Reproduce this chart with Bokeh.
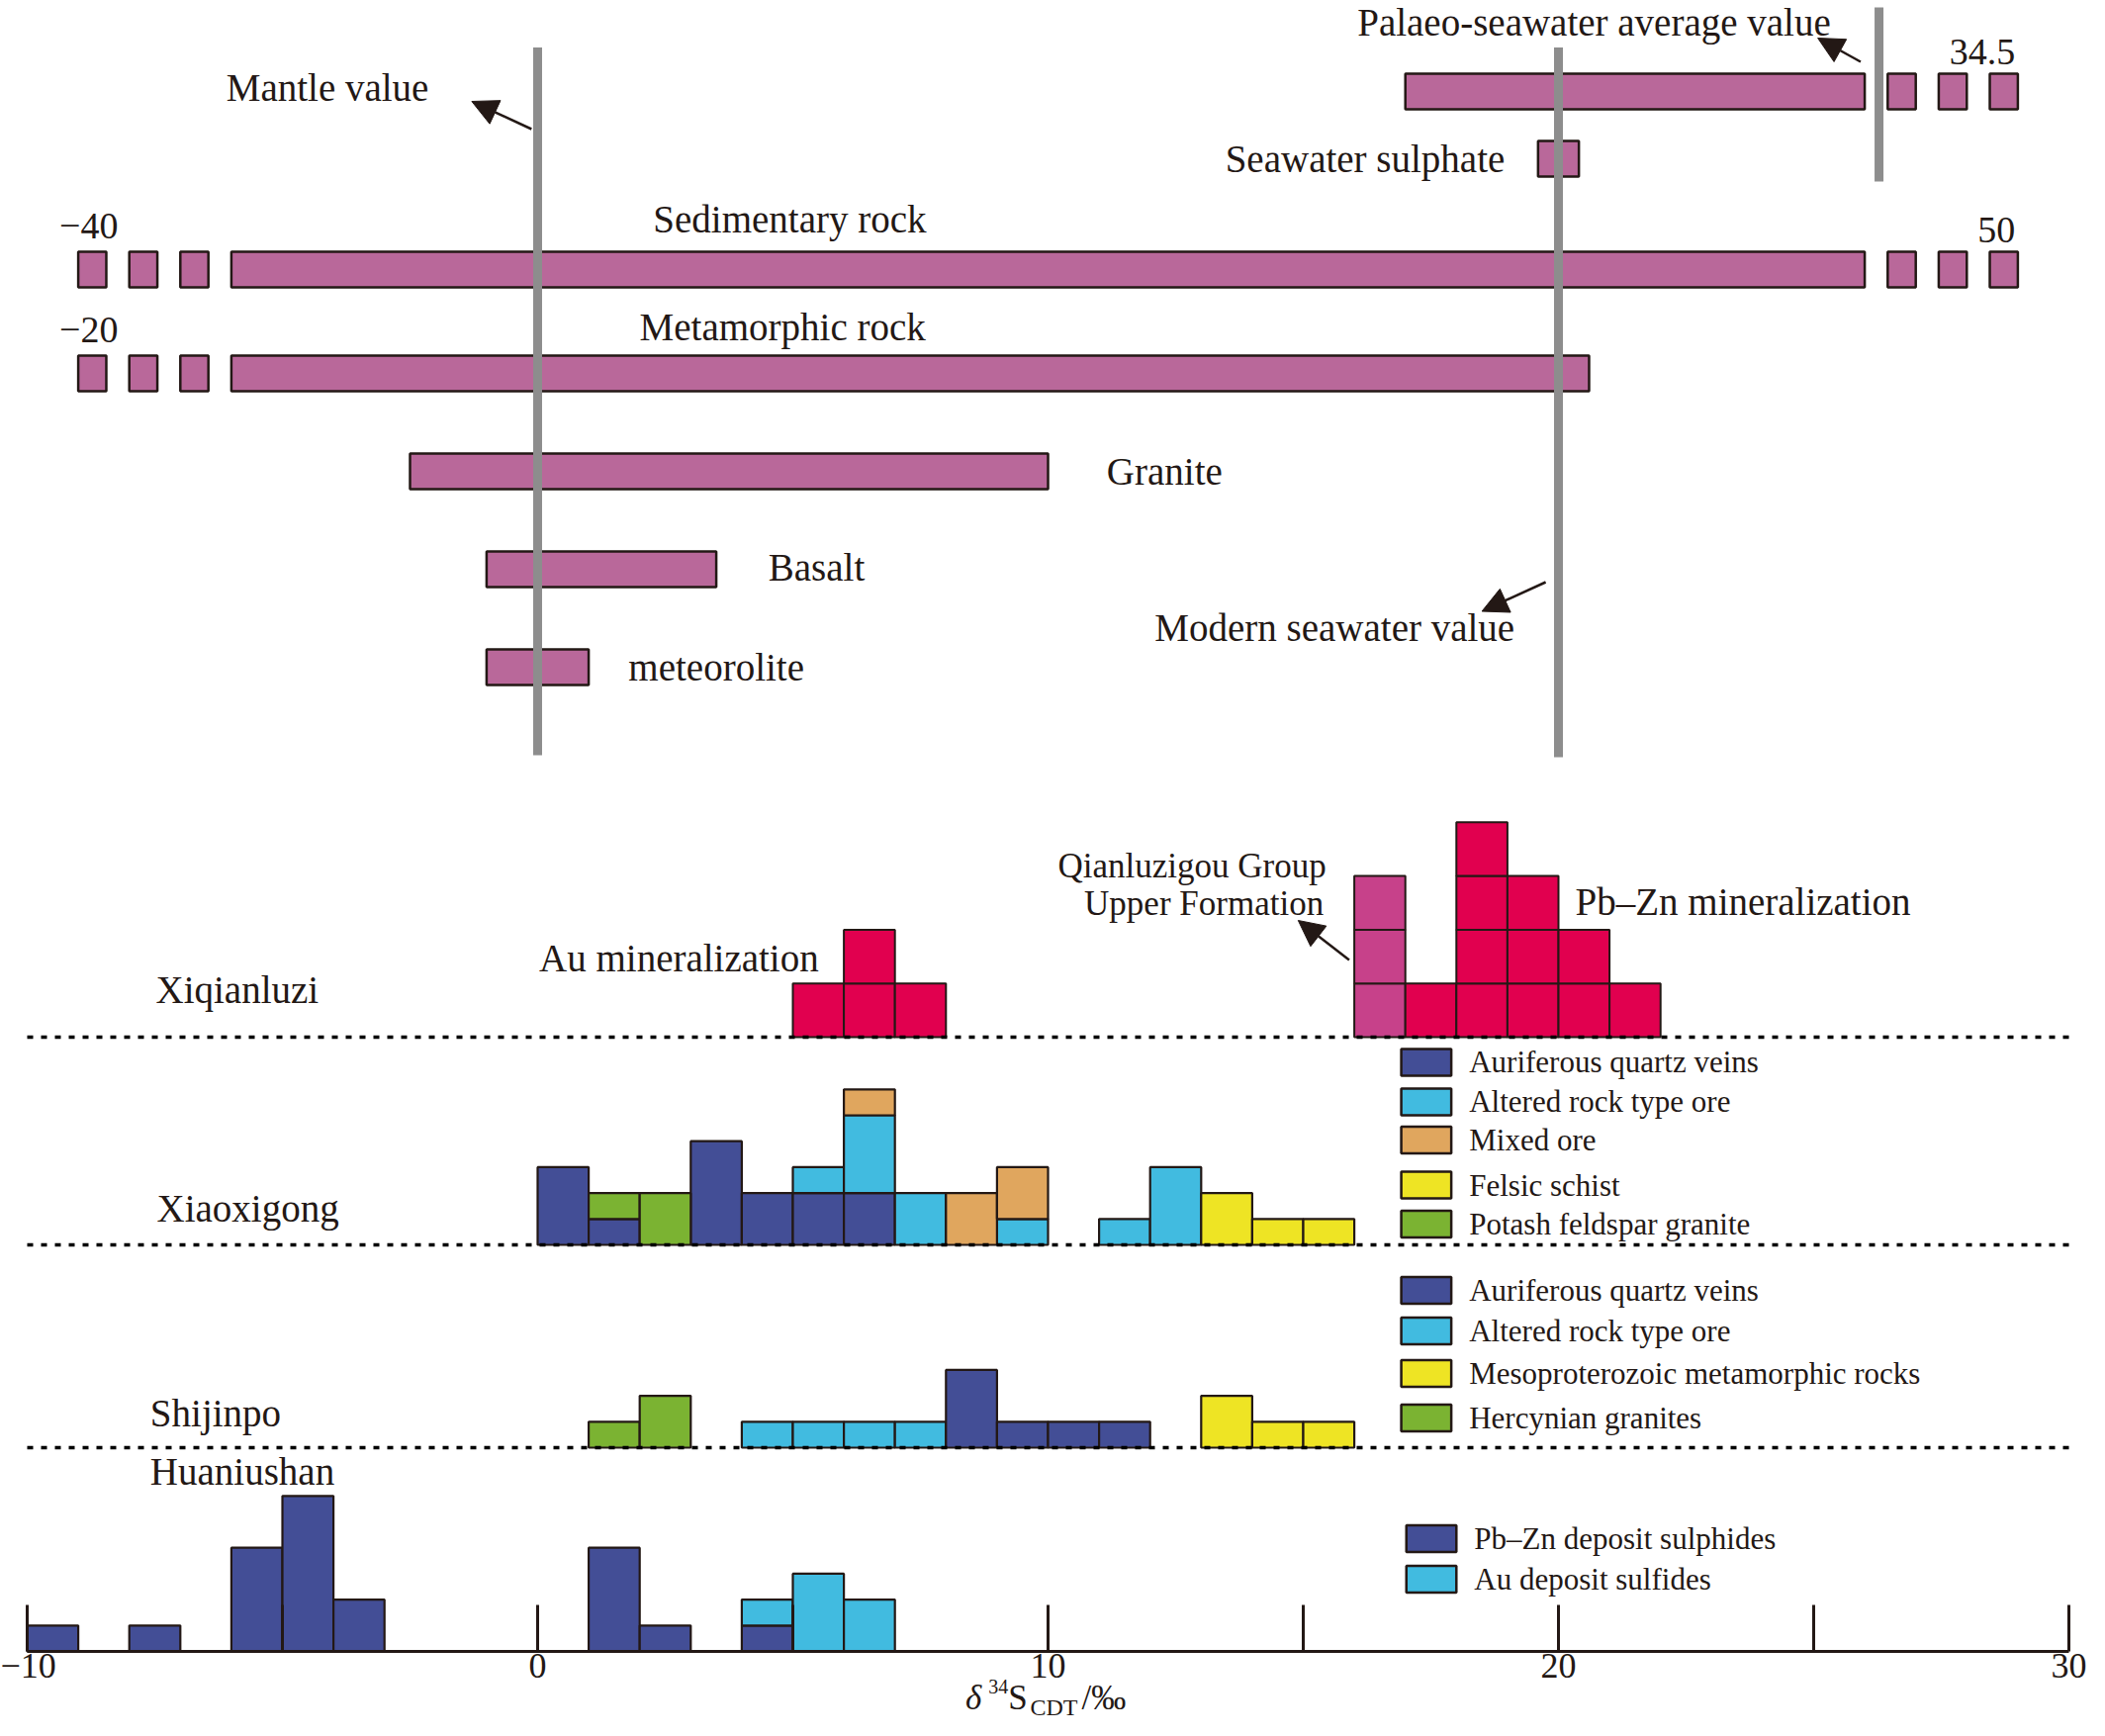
from bokeh.plotting import figure
from bokeh.models import Range1d, FixedTicker, Arrow, NormalHead, LinearAxis
from bokeh.core.properties import value
from bokeh.embed import file_html
from bokeh.resources import INLINE

# ---------------- data ----------------
# sulphur isotope ranges of natural reservoirs (delta34S, permil)
SOURCE_NAMES = ["Palaeo-seawater", "Seawater sulphate", "Sedimentary rock",
                "Metamorphic rock", "Granite", "Basalt", "meteorolite"]
SOURCE_MIN = [17, 19.6, -40, -20, -2.5, -1, -1]
SOURCE_MAX = [34.5, 20.4, 50, 20.6, 10, 3.5, 1]

MANTLE_VALUE = 0
MODERN_SEAWATER_VALUE = 20

# Xiqianluzi (bin left edges, counts)
XIQ_AU_BINS = [5, 6, 7]
XIQ_AU_COUNTS = [1, 2, 1]
XIQ_QLZG_BINS = [16]
XIQ_QLZG_COUNTS = [3]
XIQ_PBZN_BINS = [17, 18, 19, 20, 21]
XIQ_PBZN_COUNTS = [1, 4, 3, 2, 1]

# Xiaoxigong
XXG_BINS = [0, 1, 2, 3, 4, 5, 6, 7, 8, 9, 11, 12, 13, 14, 15]
XXG_AURIFEROUS = [3, 1, 0, 4, 2, 2, 2, 0, 0, 0, 0, 0, 0, 0, 0]
XXG_POTASH = [0, 1, 2, 0, 0, 0, 0, 0, 0, 0, 0, 0, 0, 0, 0]
XXG_ALTERED = [0, 0, 0, 0, 0, 1, 3, 2, 0, 1, 1, 3, 0, 0, 0]
XXG_MIXED = [0, 0, 0, 0, 0, 0, 1, 0, 2, 2, 0, 0, 0, 0, 0]
XXG_FELSIC = [0, 0, 0, 0, 0, 0, 0, 0, 0, 0, 0, 0, 2, 1, 1]
XXG_LEGEND = ["Auriferous quartz veins", "Altered rock type ore", "Mixed ore",
              "Felsic schist", "Potash feldspar granite"]

# Shijinpo
SJP_BINS = [1, 2, 4, 5, 6, 7, 8, 9, 10, 11, 13, 14, 15]
SJP_HERCYNIAN = [1, 2, 0, 0, 0, 0, 0, 0, 0, 0, 0, 0, 0]
SJP_ALTERED = [0, 0, 1, 1, 1, 1, 0, 0, 0, 0, 0, 0, 0]
SJP_AURIFEROUS = [0, 0, 0, 0, 0, 0, 3, 1, 1, 1, 0, 0, 0]
SJP_MESO = [0, 0, 0, 0, 0, 0, 0, 0, 0, 0, 2, 1, 1]
SJP_LEGEND = ["Auriferous quartz veins", "Altered rock type ore",
              "Mesoproterozoic metamorphic rocks", "Hercynian granites"]

# Huaniushan
HNS_BINS = [-10, -8, -6, -5, -4, 1, 2, 4, 5, 6]
HNS_PBZN = [1, 1, 4, 6, 2, 4, 1, 1, 0, 0]
HNS_AU = [0, 0, 0, 0, 0, 0, 0, 1, 3, 2]
HNS_LEGEND = ["Pb\u2013Zn deposit sulphides", "Au deposit sulfides"]

X_TICKS = [-10, -5, 0, 5, 10, 15, 20, 25, 30]
X_TICK_LABELS = {-10: "\u221210", 0: "0", 10: "10", 20: "20", 30: "30"}

# ---------------- style / layout ----------------
FONT = value("Liberation Serif")
INK = "#231815"
BAR = "#B9689A"
GREY = "#8D8D8D"
BLUE = "#434E96"
CYAN = "#41BBE0"
ORANGE = "#E0A65E"
YELLOW = "#EEE424"
GREEN = "#7BB332"
CRIMSON = "#E1004F"
MAGENTA = "#C7418A"

ROW_Y = [1577, 1509, 1397, 1292, 1193, 1094, 995]
BAR_H = 36
BREAK_LO, BREAK_HI = -6, 26
SQ_LEFT = [-9, -8, -7]
SQ_RIGHT = [26.45, 27.45, 28.45]
SQ_W = 0.55

XIQ_BASE, XXG_BASE, SJP_BASE, HNS_BASE = 621, 411, 206, 0
UNIT_XIQ = 54.3
UNIT = 26.2

W, H = 2112, 1739
PX_PER_UNIT = 51.6
X0 = -543 / PX_PER_UNIT

p = figure(width=W, height=H, frame_width=W, frame_height=H,
           x_range=Range1d(X0, X0 + W / PX_PER_UNIT), y_range=Range1d(1669 - H, 1669),
           output_backend="svg", toolbar_location=None,
           x_axis_location=None, y_axis_location=None,
           min_border_left=0, min_border_right=0, min_border_top=0, min_border_bottom=0)
p.grid.visible = False
p.outline_line_color = None
p.background_fill_color = "white"
p.border_fill_color = "white"


def txt(x, y, s, size=39, align="left", baseline="middle", style="normal"):
    p.text(x=[x], y=[y], text=[s], text_font=FONT, text_font_size=f"{size}px",
           text_color=INK, text_align=align, text_baseline=baseline,
           text_font_style=style)


def fmt(v):
    return f"{v:g}".replace("-", "\u2212")


# ---- upper panel: reservoir ranges with broken ends ----
ql, qr, qb, qt = [], [], [], []
for lo, hi, yc in zip(SOURCE_MIN, SOURCE_MAX, ROW_Y):
    ql.append(max(lo, BREAK_LO))
    qr.append(min(hi, BREAK_HI))
    qb.append(yc - BAR_H / 2)
    qt.append(yc + BAR_H / 2)
    if lo < BREAK_LO:
        for s in SQ_LEFT:
            ql.append(s); qr.append(s + SQ_W); qb.append(yc - BAR_H / 2); qt.append(yc + BAR_H / 2)
    if hi > BREAK_HI:
        for s in SQ_RIGHT:
            ql.append(s); qr.append(s + SQ_W); qb.append(yc - BAR_H / 2); qt.append(yc + BAR_H / 2)
p.quad(left=ql, right=qr, bottom=qb, top=qt, fill_color=BAR, line_color=INK, line_width=2.5)

for lo, hi, yc in zip(SOURCE_MIN, SOURCE_MAX, ROW_Y):
    if lo < BREAK_LO:
        txt(-9.37, yc + 44, fmt(lo), size=38)
    if hi > BREAK_HI:
        txt(28.95, yc + 40, fmt(hi), size=38, align="right")

# reservoir names
txt(18.95, ROW_Y[1], SOURCE_NAMES[1], align="right")
txt(4.94, ROW_Y[2] + 51, SOURCE_NAMES[2], align="center")
txt(4.8, ROW_Y[3] + 47, SOURCE_NAMES[3], align="center")
txt(11.15, ROW_Y[4], SOURCE_NAMES[4])
txt(4.52, ROW_Y[5] + 2, SOURCE_NAMES[5])
txt(1.78, ROW_Y[6], SOURCE_NAMES[6])

# reference value lines
p.segment(x0=[MANTLE_VALUE, MODERN_SEAWATER_VALUE, 26.28], x1=[MANTLE_VALUE, MODERN_SEAWATER_VALUE, 26.28],
          y0=[906, 904, 1486], y1=[1621.5, 1621.5, 1662], line_color=GREY, line_width=9)

txt(-6.1, 1581, "Mantle value")
txt(16.06, 1647, "Palaeo-seawater average value")
txt(12.09, 1035, "Modern seawater value")

for xs, ys, xe, ye in [(-0.12, 1539, -1.29, 1567), (25.92, 1607, 25.08, 1631),
                       (19.75, 1081, 18.5, 1051.5), (15.9, 699, 14.9, 739)]:
    p.add_layout(Arrow(end=NormalHead(size=26, fill_color=INK, line_color=INK, line_width=1),
                       x_start=xs, y_start=ys, x_end=xe, y_end=ye,
                       line_color=INK, line_width=2.5))


# ---- histograms ----
def stacked(bins, series, colors, base, unit):
    bottoms = [0] * len(bins)
    for counts, color in zip(series, colors):
        l, r, b, t = [], [], [], []
        for i, (bx, c) in enumerate(zip(bins, counts)):
            if c > 0:
                l.append(bx); r.append(bx + 1)
                b.append(base + bottoms[i] * unit); t.append(base + (bottoms[i] + c) * unit)
                bottoms[i] += c
        if l:
            p.quad(left=l, right=r, bottom=b, top=t, fill_color=color, line_color=INK, line_width=2.2)


def unit_boxes(bins, counts, color, base, unit):
    l, r, b, t = [], [], [], []
    for bx, c in zip(bins, counts):
        for k in range(c):
            l.append(bx); r.append(bx + 1)
            b.append(base + k * unit); t.append(base + (k + 1) * unit)
    p.quad(left=l, right=r, bottom=b, top=t, fill_color=color, line_color=INK, line_width=2)


unit_boxes(XIQ_AU_BINS, XIQ_AU_COUNTS, CRIMSON, XIQ_BASE, UNIT_XIQ)
unit_boxes(XIQ_QLZG_BINS, XIQ_QLZG_COUNTS, MAGENTA, XIQ_BASE, UNIT_XIQ)
unit_boxes(XIQ_PBZN_BINS, XIQ_PBZN_COUNTS, CRIMSON, XIQ_BASE, UNIT_XIQ)

stacked(XXG_BINS, [XXG_AURIFEROUS, XXG_POTASH, XXG_ALTERED, XXG_MIXED, XXG_FELSIC],
        [BLUE, GREEN, CYAN, ORANGE, YELLOW], XXG_BASE, UNIT)
stacked(SJP_BINS, [SJP_HERCYNIAN, SJP_ALTERED, SJP_AURIFEROUS, SJP_MESO],
        [GREEN, CYAN, BLUE, YELLOW], SJP_BASE, UNIT)
stacked(HNS_BINS, [HNS_PBZN, HNS_AU], [BLUE, CYAN], HNS_BASE, UNIT)

# dotted separators
for yb in [XIQ_BASE, XXG_BASE, SJP_BASE]:
    p.line(x=[-10, 30.15], y=[yb, yb], line_color="black", line_width=3.5, line_dash="6 8")

# site names and annotations
txt(-7.48, 669, "Xiqianluzi")
txt(-7.46, 448, "Xiaoxigong")
txt(-7.59, 241, "Shijinpo")
txt(-7.59, 182, "Huaniushan")
txt(0.03, 701, "Au mineralization")
txt(20.33, 758.5, "Pb\u2013Zn mineralization")
txt(15.45, 794, "Qianluzigou Group", size=35, align="right")
txt(15.4, 756, "Upper Formation", size=35, align="right")


# legends
def legend(rows_y, labels, colors, x0, x1, xt):
    p.quad(left=[x0] * len(rows_y), right=[x1] * len(rows_y),
           bottom=[y - 13.5 for y in rows_y], top=[y + 13.5 for y in rows_y],
           fill_color=colors, line_color=INK, line_width=2.5)
    for y, s in zip(rows_y, labels):
        txt(xt, y, s, size=31)


legend([595.6, 555.6, 517, 471.4, 432], XXG_LEGEND, [BLUE, CYAN, ORANGE, YELLOW, GREEN], 16.92, 17.9, 18.25)
legend([365, 324, 281, 236], SJP_LEGEND, [BLUE, CYAN, YELLOW, GREEN], 16.92, 17.9, 18.25)
legend([114, 73], HNS_LEGEND, [BLUE, CYAN], 17.02, 18.0, 18.35)

# ---- x axis at y = 0 ----
ax = LinearAxis(fixed_location=0)
ax.ticker = FixedTicker(ticks=X_TICKS)
ax.major_label_overrides = {t: X_TICK_LABELS.get(t, "") for t in X_TICKS}
ax.bounds = (-10, 30)
ax.axis_line_color = INK
ax.axis_line_width = 3
ax.major_tick_line_color = INK
ax.major_tick_line_width = 3
ax.major_tick_in = 47
ax.major_tick_out = 0
ax.minor_tick_line_color = None
ax.major_label_text_font = "Liberation Serif"
ax.major_label_text_font_size = "36px"
ax.major_label_text_color = INK
ax.major_label_standoff = 2
p.add_layout(ax, "below")

# axis title (delta 34 S CDT / permil)
for x, y, s, size, style in [(8.38, -47, "\u03b4", 35, "italic"), (8.83, -35, "34", 20, "normal"),
                             (9.22, -47, "S", 35, "normal"), (9.65, -56, "CDT", 24, "normal"),
                             (10.66, -47, "/\u2030", 35, "normal")]:
    txt(x, y, s, size=size, style=style)

open("out.html", "w").write(file_html(p, INLINE))
